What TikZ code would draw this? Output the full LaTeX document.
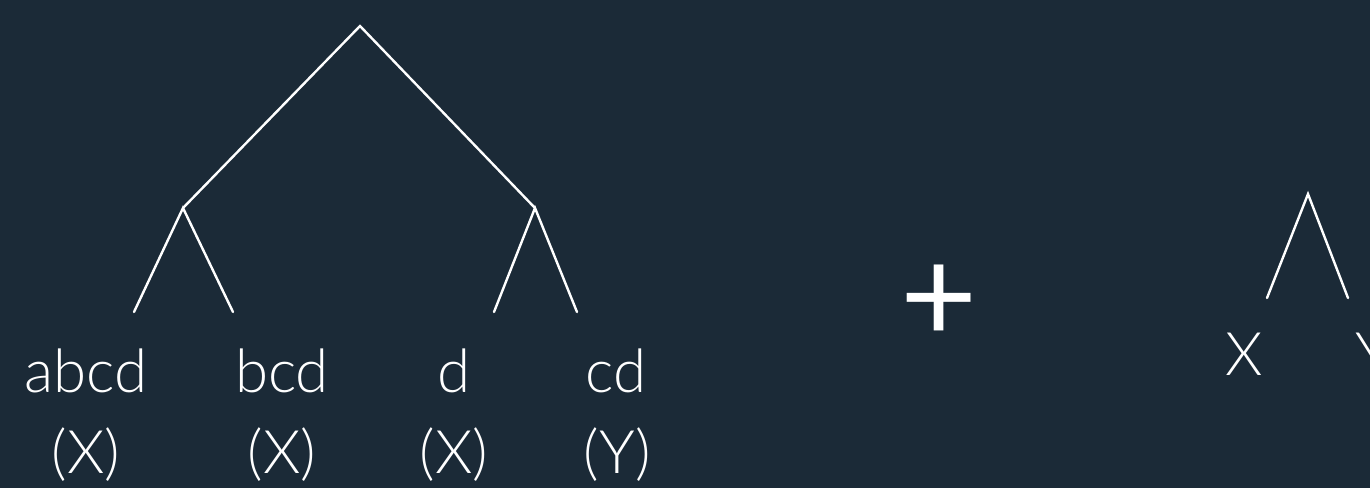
\documentclass[tikz,border=0pt]{standalone}
\usepackage{fontspec}
\setmainfont{Lato Light}
\newfontfamily\plusfont{Lato}
\usepackage{tikz}
\usetikzlibrary{positioning}
\definecolor{slate}{RGB}{27,42,55}
\tikzset{
  edge/.style  = {draw=white, line width=2.4pt, line cap=round},
  leaf/.style  = {text=white, anchor=base, inner sep=0pt,
                  font=\fontsize{60}{60}\selectfont},
  tag/.style   = {leaf},
  plus/.style  = {text=white, inner sep=0pt,
                  font=\plusfont\fontsize{133}{133}\selectfont},
}

\begin{document}
\begin{tikzpicture}[x=1pt, y=-1pt]
  \fill[slate] (0,0) rectangle (1370,488);
  \useasboundingbox (0,0) rectangle (1370,488);
  % big tree
  \coordinate (root) at (360,26);
  \coordinate (l) at (183,208);
  \coordinate (r) at (535,208);
  \coordinate (l1) at (134,312);
  \coordinate (l2) at (233,312);
  \coordinate (r1) at (494,312);
  \coordinate (r2) at (577,312);
  \draw[edge] (l) -- (root) -- (r);
  \draw[edge] (l1) -- (l) -- (l2);
  \draw[edge] (r1) -- (r) -- (r2);
  % leaves and their classes
  \node[leaf] (abcd) at (86,392) {abcd};
  \node[leaf] (bcd) at (282,392) {bcd};
  \node[leaf] (d) at (454,392) {d};
  \node[leaf] (cd) at (616,392) {cd};
  \node[tag] (tabcd) at (86,473) {(X)};
  \node[tag] (tbcd) at (282,473) {(X)};
  \node[tag] (td) at (454,473) {(X)};
  \node[tag] (tcd) at (617,473) {(Y)};
  \node[plus] (sum) at (939,304) {+};
  % small tree
  \coordinate (s) at (1308,194);
  \coordinate (s1) at (1267,298);
  \coordinate (s2) at (1348,298);
  \draw[edge] (s1) -- (s) -- (s2);
  \node[leaf] (x) at (1244,375) {X};
  \node[leaf] (y) at (1373,375) {Y};
\end{tikzpicture}
\end{document}
